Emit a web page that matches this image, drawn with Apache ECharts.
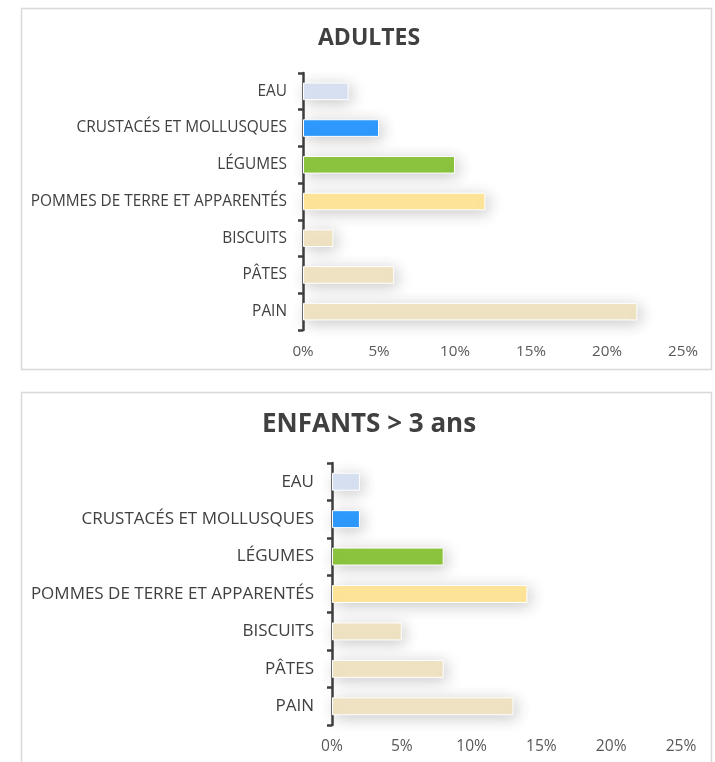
<!DOCTYPE html>
<html>
<head>
<meta charset="utf-8">
<script src="https://cdn.jsdelivr.net/npm/echarts@6/dist/echarts.min.js"></script>
<style>
html,body{margin:0;padding:0;background:#fff;}
#main{width:715px;height:762px;}
</style>
</head>
<body>
<div id="main"></div>
<script>
var categories = ['EAU', 'CRUSTACÉS ET MOLLUSQUES', 'LÉGUMES', 'POMMES DE TERRE ET APPARENTÉS', 'BISCUITS', 'PÂTES', 'PAIN'];
var adultesValues = [3, 5, 10, 12, 2, 6, 22];
var enfantsValues = [2, 2, 8, 14, 5, 8, 13];
var barColors = ['#DAE3F3', '#2E9BFF', '#8DC63F', '#FFE699', '#F2E5C6', '#F2E5C6', '#F2E5C6'];
var xTicks = [0, 5, 10, 15, 20, 25];
var titleAdultes = 'ADULTES';
var titleEnfants = 'ENFANTS > 3 ans';

var FONT = '"Open Sans", sans-serif';

function mkData(vals) {
  return vals.map(function (v, i) {
    return { value: v, itemStyle: { color: barColors[i] } };
  });
}

function yAxis(gi, fs, mg) {
  return {
    type: 'category', gridIndex: gi, data: categories, inverse: true,
    axisLine: { show: true, lineStyle: { color: '#404040', width: 2.5 } },
    axisTick: { show: true, length: 5, lineStyle: { color: '#404040', width: 2.5 } },
    axisLabel: { color: '#404040', fontFamily: FONT, fontSize: fs, margin: mg }
  };
}
function xAxis(gi, fs) {
  return {
    type: 'value', gridIndex: gi, min: xTicks[0], max: xTicks[xTicks.length - 1], interval: xTicks[1] - xTicks[0],
    axisLine: { show: false }, axisTick: { show: false }, splitLine: { show: false },
    axisLabel: { color: '#595959', fontFamily: FONT, fontSize: fs, margin: 14, formatter: '{value}%' }
  };
}
function barSeries(gi, vals) {
  return {
    type: 'bar', xAxisIndex: gi, yAxisIndex: gi, data: mkData(vals), barWidth: '48%',
    itemStyle: {
      borderColor: '#ffffff', borderWidth: 1,
      shadowBlur: 16, shadowColor: 'rgba(0,0,0,0.22)', shadowOffsetX: 3, shadowOffsetY: 3
    },
    silent: true
  };
}

var chart = echarts.init(document.getElementById('main'), null, { renderer: 'canvas' });
chart.setOption({
  backgroundColor: '#ffffff',
  animation: false,
  title: [
    { text: titleAdultes, left: 313, top: 22,
      textStyle: { fontFamily: FONT, fontWeight: 'bold', fontSize: 23, color: '#404040' } },
    { text: titleEnfants, left: 257, top: 407,
      textStyle: { fontFamily: FONT, fontWeight: 'bold', fontSize: 26, color: '#404040' } }
  ],
  graphic: [
    { type: 'rect', shape: { x: 21.5, y: 8.5, width: 690, height: 361 }, style: { fill: 'none', stroke: '#d9d9d9', lineWidth: 1.5 }, z: -1 },
    { type: 'rect', shape: { x: 21.5, y: 392.5, width: 690, height: 400 }, style: { fill: 'none', stroke: '#d9d9d9', lineWidth: 1.5 }, z: -1 }
  ],
  grid: [
    { left: 303, top: 73, width: 380, height: 257 },
    { left: 332, top: 463, width: 349, height: 262 }
  ],
  xAxis: [xAxis(0, 15.2), xAxis(1, 15.6)],
  yAxis: [yAxis(0, 15.4, 16), yAxis(1, 17, 18)],
  series: [barSeries(0, adultesValues), barSeries(1, enfantsValues)]
});
</script>
</body>
</html>
